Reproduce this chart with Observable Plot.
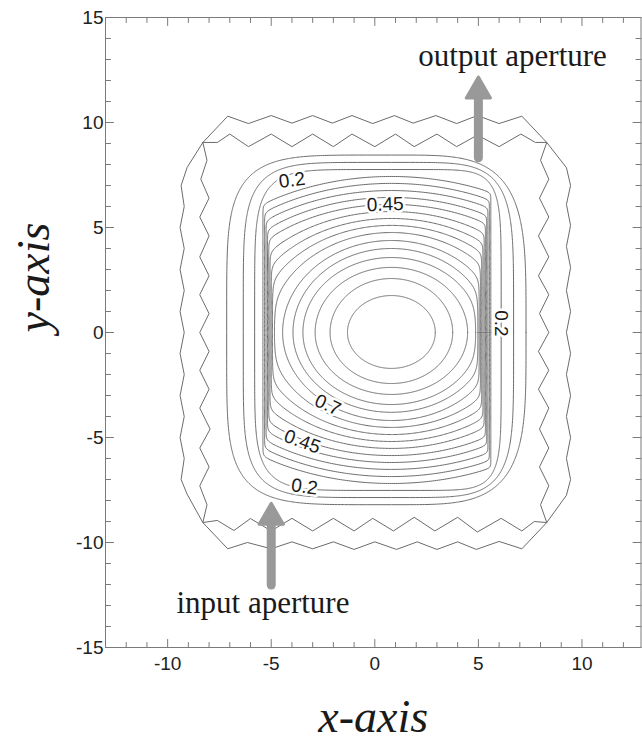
<!DOCTYPE html>
<html>
<head>
<meta charset="utf-8">
<script src="https://cdn.jsdelivr.net/npm/d3@7"></script>
<script src="https://cdn.jsdelivr.net/npm/@observablehq/plot@0.6"></script>
<style>
  html, body { margin: 0; padding: 0; background: #fff; }
  #chart svg { display: block; }
</style>
</head>
<body>
<div id="chart"></div>
<script>
// ---------- axes ----------
const xDomain = [-13, 12.85];
const yDomain = [-15, 15];
const xMajorTicks = [-10, -5, 0, 5, 10];
const xMinorTicks = [-12, -11, -9, -8, -7, -6, -4, -3, -2, -1, 1, 2, 3, 4, 6, 7, 8, 9, 11, 12];
const yMajorTicks = [-15, -10, -5, 0, 5, 10, 15];
const yMinorTicks = [-14, -13, -12, -11, -9, -8, -7, -6, -4, -3, -2, -1, 1, 2, 3, 4, 6, 7, 8, 9, 11, 12, 13, 14];
const axisTitles = ["x-axis", "y-axis"];

// ---------- contours clipped by the aperture walls (levels 0.95 ... 0.25) ----------
const centreX = 0.8;
const levelsA     = [0.95, 0.9, 0.85, 0.8, 0.75, 0.7, 0.65, 0.6, 0.55, 0.5, 0.45, 0.4, 0.35, 0.3, 0.25];
const topsA       = [1.76, 2.57, 3.10, 3.57, 4.00, 4.38, 4.76, 5.10, 5.43, 5.76, 6.10, 6.43, 6.76, 7.10, 7.43];
const bottomsA    = [-1.71, -2.43, -2.95, -3.43, -3.80, -4.19, -4.52, -4.86, -5.19, -5.52, -5.86, -6.19, -6.52, -6.86, -7.19];
const halfWidthsA = [2.12, 2.96, 3.68, 4.27, 4.75, 5.25, 5.9, 6.55, 7.2, 7.9, 8.7, 9.3, 9.9, 10.4, 10.9];
const leftWallA   = [null, null, null, null, null, null, -4.88, -4.94, -5.0, -5.06, -5.12, -5.18, -5.25, -5.32, -5.4];
const rightWallA  = [null, null, null, 4.92, 4.98, 5.04, 5.10, 5.16, 5.22, 5.28, 5.34, 5.40, 5.46, 5.53, 5.60];

// ---------- rounded contours outside the walls (levels 0.2, 0.15, 0.1) ----------
const levelsB   = [0.2, 0.15, 0.1];
const topsB     = [7.76, 8.10, 8.45];
const bottomsB  = [-7.52, -7.86, -8.20];
const leftB     = [-5.8, -6.35, -7.15];
const rightB    = [6.1, 6.7, 7.3];
const squareLeftB  = [6, 5.5, 5];
const squareRightB = [7, 5, 4];

// ---------- wavy outermost contours ----------
const outerRing = [
  [-8.3,9.05],[-7.1,10.3],[-6.1,9.95],[-5.0,10.33],[-4.0,9.97],[-3.0,10.33],[-2.05,9.97],[-1.1,10.33],[-0.1,9.95],[0.95,10.33],[1.85,9.97],[2.95,10.33],[3.95,9.95],[4.95,10.33],[6.0,9.95],[7.1,10.3],[8.3,9.05],
  [9.25,7.85],[9.45,7.0],[9.25,6.1],[9.45,5.1],[9.25,4.1],[9.45,3.1],[9.25,2.0],[9.45,1.0],[9.25,0],[9.45,-1.0],[9.25,-2.0],[9.45,-3.0],[9.25,-4.0],[9.45,-5.0],[9.25,-6.0],[9.45,-7.0],[9.25,-7.75],
  [8.3,-9.05],[7.1,-10.3],[6.0,-9.95],[4.9,-10.33],[4.0,-9.97],[3.0,-10.33],[2.05,-9.97],[1.05,-10.33],[0,-9.97],[-1.0,-10.33],[-2.0,-9.97],[-3.0,-10.3],[-4.0,-9.97],[-5.0,-10.3],[-6.15,-10.0],[-7.1,-10.3],[-8.3,-9.05],
  [-9.06,-7.7],[-9.35,-7.0],[-9.2,-6.0],[-9.4,-5.0],[-9.2,-4.0],[-9.4,-3.0],[-9.2,-2.0],[-9.4,-1.0],[-9.2,0],[-9.4,1.0],[-9.2,2.0],[-9.4,3.0],[-9.2,4.0],[-9.4,5.0],[-9.2,6.0],[-9.35,7.0],[-9.06,7.86],[-8.3,9.05]
];
const secondRing = [
  [-8.3,9.05],[-7.6,9.05],[-7.0,9.45],[-6.1,8.85],[-5.0,9.45],[-4.0,8.85],[-3.0,9.45],[-2.0,8.85],[-1.1,9.45],[0,8.85],[1.0,9.45],[1.9,8.85],[3.0,9.45],[3.95,8.85],[4.95,9.4],[6.0,8.85],[7.05,9.45],[7.75,9.05],[8.3,9.05],
  [8.0,8.2],[8.4,7.3],[7.95,6.4],[8.4,5.5],[7.9,4.6],[8.4,3.6],[7.9,2.7],[8.4,1.8],[7.95,0.9],[8.4,0],[7.9,-0.9],[8.4,-1.8],[7.9,-2.7],[8.4,-3.6],[7.95,-4.6],[8.4,-5.5],[7.95,-6.4],[8.4,-7.3],[8.0,-8.2],[8.3,-9.05],
  [7.7,-9.0],[7.1,-9.45],[6.1,-8.85],[4.95,-9.5],[4.0,-8.8],[2.9,-9.45],[1.9,-8.8],[0.9,-9.45],[-0.1,-8.85],[-1.0,-9.45],[-2.0,-8.85],[-3.0,-9.45],[-4.0,-8.85],[-5.0,-9.45],[-6.0,-8.86],[-6.8,-9.43],[-7.6,-8.95],[-8.3,-9.05],
  [-8.1,-8.2],[-8.45,-7.3],[-8.0,-6.4],[-8.45,-5.5],[-7.95,-4.6],[-8.45,-3.6],[-8.0,-2.7],[-8.45,-1.8],[-8.0,-0.9],[-8.45,0],[-8.0,0.9],[-8.45,1.8],[-8.0,2.7],[-8.45,3.6],[-8.0,4.6],[-8.45,5.5],[-8.0,6.4],[-8.4,7.3],[-8.1,8.2],[-8.3,9.05]
];

// ---------- contour labels ----------
const labelText   = ["0.2", "0.45", "0.2", "0.7", "0.45", "0.2"];
const labelX      = [-4.0, 0.5, 6.1, -2.27, -3.5, -3.4];
const labelY      = [7.25, 6.1, 0.43, -3.45, -5.2, -7.35];
const labelAngle  = [-8, -2, 90, 25, 20, 8];

// ---------- apertures ----------
const apertureNames = ["input aperture", "output aperture"];
const apertureX     = [-5, 5];
const arrowTailY    = [-12.05, 8.3];
const arrowHeadY    = [-8.8, 11.5];
const apertureTextX = [-5.4, 6.65];
const apertureTextY = [-13.38, 12.7];

// ---------- build tables for the library ----------
const wallSoftness = 0.16;
const softplus = u => (u > 30 ? u : Math.log1p(Math.exp(u)));
const steps = d3.range(0, 721).map(i => (i / 720) * 2 * Math.PI);
const contourRows = [];
levelsA.forEach((level, i) => {
  for (const t of steps) {
    const c = Math.cos(t), s = Math.sin(t);
    let x = centreX + halfWidthsA[i] * c;
    const y = s >= 0 ? topsA[i] * s : -bottomsA[i] * s;
    if (leftWallA[i] != null) x = leftWallA[i] + wallSoftness * softplus((x - leftWallA[i]) / wallSoftness);
    if (rightWallA[i] != null) x = rightWallA[i] - wallSoftness * softplus((rightWallA[i] - x) / wallSoftness);
    contourRows.push({level, x, y});
  }
});
levelsB.forEach((level, i) => {
  for (const t of steps) {
    const c = Math.cos(t), s = Math.sin(t);
    const n = c < 0 ? squareLeftB[i] : squareRightB[i];
    const a = c < 0 ? centreX - leftB[i] : rightB[i] - centreX;
    const b = s >= 0 ? topsB[i] : -bottomsB[i];
    contourRows.push({
      level,
      x: centreX + a * Math.sign(c) * Math.abs(c) ** (2 / n),
      y: b * Math.sign(s) * Math.abs(s) ** (2 / n)
    });
  }
});
outerRing.forEach(([x, y]) => contourRows.push({level: "outer", x, y}));
secondRing.forEach(([x, y]) => contourRows.push({level: "second", x, y}));

const labelRows = labelText.map((text, i) => ({text, x: labelX[i], y: labelY[i], angle: labelAngle[i]}));
const apertureRows = apertureNames.map((name, i) => ({
  name, x: apertureX[i], tail: arrowTailY[i], head: arrowHeadY[i], tx: apertureTextX[i], ty: apertureTextY[i]
}));

const tickShape = {draw(context, l) { context.moveTo(0, 0); context.lineTo(0, -l); }};
const axisGrey = "#7a7a7a";
const tickMarks = (data, channel, anchor, rotate, length) =>
  Plot.vector(data, {[channel]: d => d, frameAnchor: anchor, rotate, length, anchor: "start",
    shape: tickShape, stroke: axisGrey, strokeWidth: 1});

const chart = Plot.plot({
  width: 642,
  height: 744,
  marginLeft: 105,
  marginRight: 1.5,
  marginTop: 17,
  marginBottom: 97,
  x: {domain: xDomain},
  y: {domain: yDomain},
  style: {fontFamily: "'Liberation Sans', Arial, sans-serif", fontSize: "19px", color: "#222", background: "#fff"},
  marks: [
    Plot.line(contourRows, {x: "x", y: "y", z: "level", stroke: "#6b6b6b", strokeWidth: 1}),
    Plot.text(labelRows, {x: "x", y: "y", text: "text", rotate: "angle", fill: "#1a1a1a",
      stroke: "#fff", strokeWidth: 5, fontSize: 19, fontFamily: "'Liberation Sans', Arial, sans-serif"}),
    Plot.ruleX(apertureRows, {x: "x", y1: "tail", y2: "head", stroke: "#999", strokeWidth: 9, strokeLinecap: "round"}),
    Plot.dot(apertureRows, {x: "x", y: "head", symbol: "triangle", r: 9, fill: "#999", stroke: "#999",
      strokeWidth: 3, strokeLinejoin: "round"}),
    Plot.text(apertureRows, {x: "tx", y: "ty", text: "name", lineAnchor: "bottom", fill: "#1a1a1a",
      fontSize: 31, fontFamily: "'Liberation Serif', 'Times New Roman', serif"}),
    Plot.frame({stroke: axisGrey}),
    tickMarks(xMajorTicks, "x", "bottom", 0, 8),
    tickMarks(xMinorTicks, "x", "bottom", 0, 5),
    tickMarks(xMajorTicks, "x", "top", 180, 8),
    tickMarks(xMinorTicks, "x", "top", 180, 5),
    tickMarks(yMajorTicks, "y", "left", 90, 8),
    tickMarks(yMinorTicks, "y", "left", 90, 5),
    tickMarks(yMajorTicks, "y", "right", -90, 8),
    tickMarks(yMinorTicks, "y", "right", -90, 5),
    Plot.axisX(xMajorTicks, {anchor: "bottom", tickSize: 0, tickPadding: 9, label: null, tickFormat: d => String(d)}),
    Plot.axisY(yMajorTicks, {anchor: "left", tickSize: 0, tickPadding: 2, label: null, tickFormat: d => String(d)}),
    Plot.text([axisTitles[0]], {frameAnchor: "bottom", dy: 84, lineAnchor: "bottom", text: d => d,
      fontSize: 46, fontStyle: "italic", fill: "#1a1a1a", fontFamily: "'Liberation Serif', 'Times New Roman', serif"}),
    Plot.text([axisTitles[1]], {frameAnchor: "left", dx: -57, rotate: -90, lineAnchor: "bottom", text: d => d,
      fontSize: 46, fontStyle: "italic", fill: "#1a1a1a", fontFamily: "'Liberation Serif', 'Times New Roman', serif"})
  ]
});
document.getElementById("chart").appendChild(chart);
</script>
</body>
</html>
